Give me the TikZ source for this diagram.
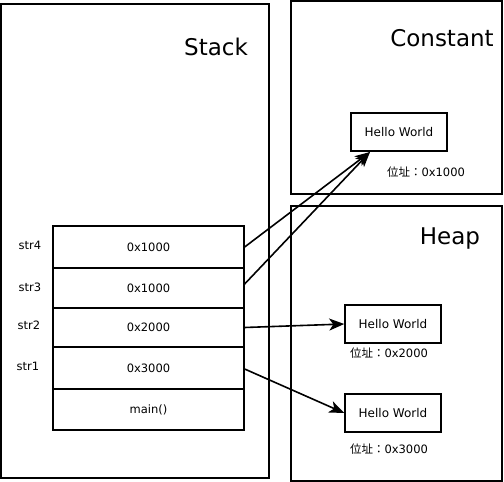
\documentclass[tikz,border=0pt]{standalone}
\usepackage{fontspec}
\setmainfont{DejaVu Sans}
\newfontfamily\cjk{Noto Sans CJK JP}
\usetikzlibrary{arrows.meta}

\tikzset{
  region/.style={draw, line width=1.6pt},
  cell/.style={draw, line width=1.3pt, minimum width=191pt,
    inner sep=0pt, font=\fontsize{11.5}{14}\selectfont},
  strbox/.style={draw, line width=1.5pt, minimum width=96pt, minimum height=38pt,
    inner sep=0pt, font=\fontsize{12}{14}\selectfont},
  title/.style={font=\fontsize{23}{26}\selectfont},
  small/.style={font=\fontsize{11.5}{14}\selectfont},
  ptr/.style={line width=1.6pt, -{Stealth[length=15pt,width=12pt,inset=4pt]}}
}

\begin{document}
\begin{tikzpicture}[x=1pt, y=-1pt, line join=miter]
    \useasboundingbox (0,0) rectangle (504,482);

    % --- three memory regions ---
    \draw[region] (1,4) rectangle (269,478);
    \draw[region] (291,1) rectangle (502,194);
    \draw[region] (291,206) rectangle (502,481);
    \node[title] (stack) at (216,47) {Stack};
    \node[title] (const) at (442,38) {Constant};
    \node[title] (heap)  at (450,239) {Heap};

    % stack frame cells
    \foreach \name/\cy/\hgt/\txt in {c4/247/42/0x1000, c3/288/40/0x1000,
        c2/327.5/39/0x2000, c1/368/42/0x3000, cmain/409.5/41/main()}{
      \node[cell, minimum height=\hgt pt] (\name) at (148.5,\cy) {\txt};
    }
    % variable names
    \node[small] (s4) at (30,245) {str4};
    \node[small] (s3) at (30,287) {str3};
    \node[small] (s2) at (29,325) {str2};
    \node[small] (s1) at (28,366) {str1};

    % string objects
    \node[strbox] (hw0) at (399,132) {Hello World};
    \node[small] (a0) at (426,172) {{\cjk 位址：}0x1000};
    \node[strbox] (hw1) at (393,324) {Hello World};
    \node[small] (a1) at (389,353) {{\cjk 位址：}0x2000};
    \node[strbox] (hw2) at (393,413) {Hello World};
    \node[small] (a2) at (389,449) {{\cjk 位址：}0x3000};

    % pointers
    \coordinate (tip0) at (370,152);
    \draw[ptr] (c4.east) -- (tip0);
    \draw[ptr] ([yshift=4pt]c3.east) -- (tip0);
    \draw[ptr] (c2.east) -- (hw1.west);
    \draw[ptr] ([yshift=-1pt]c1.east) -- (hw2.west);
\end{tikzpicture}
\end{document}
